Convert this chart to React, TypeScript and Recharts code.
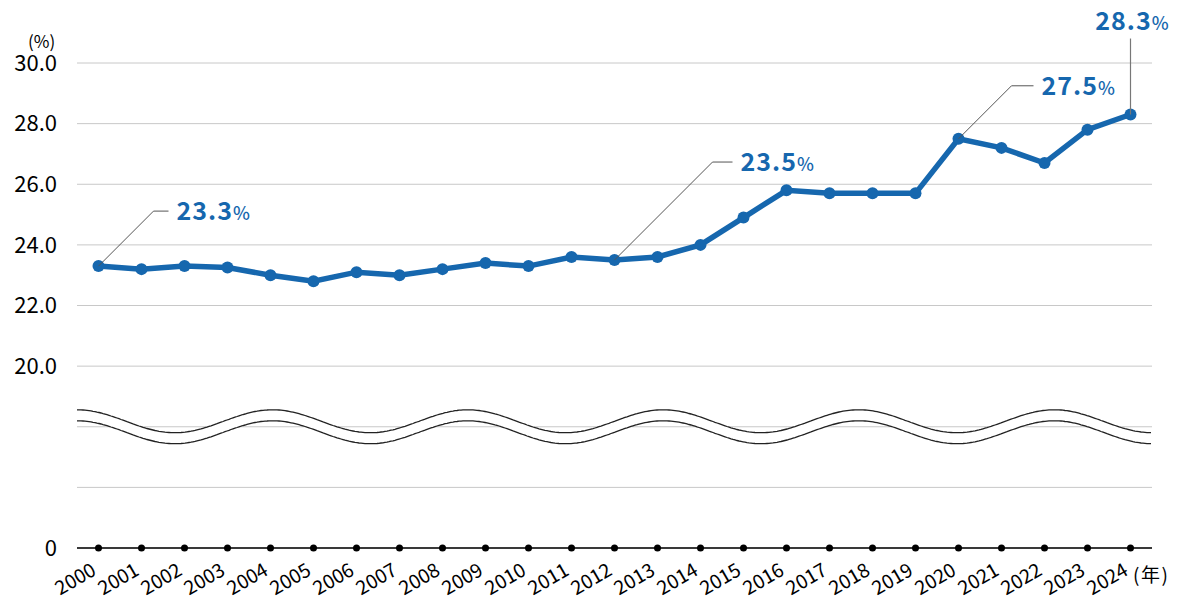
import React from "react";
import {
  LineChart, Line, XAxis, YAxis, CartesianGrid, LabelList, ReferenceArea,
} from "recharts";

if (typeof document !== "undefined") document.body.style.margin = "0";

const years = [
  "2000", "2001", "2002", "2003", "2004", "2005", "2006", "2007", "2008", "2009",
  "2010", "2011", "2012", "2013", "2014", "2015", "2016", "2017", "2018", "2019",
  "2020", "2021", "2022", "2023", "2024",
];
const rates = [
  23.3, 23.2, 23.3, 23.25, 23.0, 22.8, 23.1, 23.0, 23.2, 23.4,
  23.3, 23.6, 23.5, 23.6, 24.0, 24.9, 25.8, 25.7, 25.7, 25.7,
  27.5, 27.2, 26.7, 27.8, 28.3,
];
// y value 14 stands in for "0" below the axis break
const yTicks = [14, 16, 18, 20, 22, 24, 26, 28, 30];
const calloutYears = ["2000", "2012", "2020", "2024"];

const data = years.map((year, i) => ({ year, rate: rates[i] }));

const BLUE = "#1667ae";
const FONT = "'Noto Sans CJK JP', 'Noto Sans', sans-serif";
const XPAD = 21.5;

// leader geometry per callout (diagonal run, flat run)
const callouts: Record<string, { diag: number; flat: number; vertical?: number }> = {
  "2000": { diag: 55, flat: 15 },
  "2012": { diag: 98, flat: 20 },
  "2020": { diag: 53, flat: 22 },
  "2024": { diag: 0, flat: 0, vertical: 76 },
};

const yFmt = (v: number) => (v === 14 ? "0" : v < 20 ? "" : v.toFixed(1));

function Callout(props: any) {
  const { x, y, value, index } = props;
  const yr = years[index];
  if (!calloutYears.includes(yr)) return null;
  const c = callouts[yr];
  const label = (
    <>
      {Number(value).toFixed(1)}
      <tspan fontSize={18} fontWeight={500}>%</tspan>
    </>
  );
  if (c.vertical) {
    return (
      <g>
        <line x1={x} y1={y} x2={x} y2={y - c.vertical} stroke="#777" strokeWidth={1.2} />
        <text x={x + 2} y={y - c.vertical - 9} textAnchor="middle" fill={BLUE}
          fontFamily={FONT} fontWeight={700} fontSize={25} letterSpacing={1}>
          {label}
        </text>
      </g>
    );
  }
  const ex = x + c.diag, ey = y - c.diag;
  return (
    <g>
      <polyline points={`${x},${y} ${ex},${ey} ${ex + c.flat},${ey}`} fill="none" stroke="#555" strokeWidth={1} />
      <text x={ex + c.flat + 8} y={ey + 9} fill={BLUE} fontFamily={FONT}
        fontWeight={700} fontSize={25} letterSpacing={1}>
        {label}
      </text>
    </g>
  );
}

function YearTick(props: any) {
  const { x, y, payload } = props;
  return (
    <g>
      <circle cx={x} cy={y} r={3.5} fill="#000" />
      <text x={0} y={0} transform={`translate(${x - 1},${y + 26}) rotate(-30)`}
        textAnchor="end" fill="#000" fontFamily={FONT} fontSize={19.5}>
        {payload.value}
      </text>
    </g>
  );
}

function Wave(props: any) {
  const { y, height } = props;
  const x = props.x - XPAD;
  const width = props.width + 2 * XPAD;
  const period = width / 5.5;
  const amp = (height - 11) / 2;
  const mid = y + amp;
  const pts = (off: number) => {
    const p: string[] = [];
    for (let px = 0; px <= width + 0.1; px += 2) {
      const yy = mid - amp * Math.cos((2 * Math.PI * px) / period) + off;
      p.push(`${(x + px).toFixed(1)},${yy.toFixed(1)}`);
    }
    return p;
  };
  const top = pts(0);
  const bot = pts(11);
  return (
    <g>
      <path d={`M${top.join(" L")} L${bot.slice().reverse().join(" L")} Z`} fill="#fff" />
      <path d={`M${top.join(" L")}`} fill="none" stroke="#222" strokeWidth={1.3} />
      <path d={`M${bot.join(" L")}`} fill="none" stroke="#222" strokeWidth={1.3} />
    </g>
  );
}

export default function App() {
  return (
    <div style={{ position: "relative", width: 1200, height: 602, background: "#fff", fontFamily: FONT }}>
      <LineChart width={1200} height={602} data={data} margin={{ top: 63, right: 48, bottom: 24, left: 0 }}>
        <CartesianGrid vertical={false} stroke="#c8c8c8" strokeWidth={1} />
        <XAxis dataKey="year" interval={0} height={30} tick={<YearTick />} tickLine={false} tickSize={0} tickMargin={0}
          axisLine={{ stroke: "#000", strokeWidth: 1.5 }} padding={{ left: XPAD, right: XPAD }} />
        <YAxis domain={[14, 30]} ticks={yTicks} tickFormatter={yFmt} width={77} axisLine={false}
          tickLine={false} tickSize={0} tickMargin={20}
          tick={{ fill: "#000", fontSize: 22, fontFamily: FONT }} />
        <ReferenceArea y1={17.44} y2={18.56} shape={<Wave />} ifOverflow="visible" />
        <Line dataKey="rate" stroke={BLUE} strokeWidth={5.5} isAnimationActive={false}
          dot={{ r: 6, fill: BLUE, stroke: BLUE, strokeWidth: 0 }} activeDot={false}>
          <LabelList dataKey="rate" content={<Callout />} />
        </Line>
      </LineChart>
      <div style={{ position: "absolute", left: 28, top: 36, fontSize: 17, lineHeight: "10px" }}>(%)</div>
      <div style={{ position: "absolute", left: 1133, top: 564, fontSize: 19, lineHeight: "20px", letterSpacing: 1.5 }}>(年)</div>
    </div>
  );
}
